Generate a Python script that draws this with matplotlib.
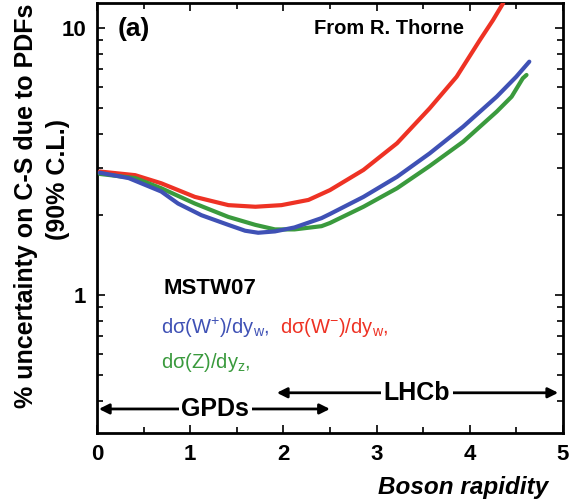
import numpy as np
import matplotlib
matplotlib.use("Agg")
import matplotlib.pyplot as plt
from matplotlib.ticker import FixedLocator, NullFormatter, FixedFormatter

plt.rcParams['font.family'] = ['Liberation Sans', 'DejaVu Sans']
plt.rcParams['mathtext.fontset'] = 'custom'
plt.rcParams['mathtext.rm'] = 'Liberation Sans'
plt.rcParams['mathtext.it'] = 'Liberation Sans:italic'

# Data
x_wplus = [0.03, 0.34, 0.69, 0.87, 1.12, 1.41, 1.59, 1.73, 1.91, 2.12, 2.41, 2.50, 2.86, 3.22, 3.57, 3.93, 4.29, 4.50, 4.64]
y_wplus = [2.87, 2.74, 2.44, 2.20, 1.99, 1.83, 1.74, 1.71, 1.73, 1.79, 1.94, 2.01, 2.33, 2.77, 3.39, 4.27, 5.53, 6.57, 7.48]

x_wminus = [0.03, 0.41, 0.69, 1.05, 1.41, 1.70, 1.98, 2.27, 2.50, 2.86, 3.22, 3.57, 3.86, 4.11, 4.25, 4.36]
y_wminus = [2.90, 2.81, 2.62, 2.33, 2.17, 2.14, 2.17, 2.27, 2.47, 2.94, 3.70, 5.00, 6.57, 9.02, 10.7, 12.4]

x_z = [0.03, 0.41, 0.69, 1.05, 1.41, 1.70, 1.91, 2.12, 2.41, 2.50, 2.86, 3.22, 3.57, 3.93, 4.29, 4.45, 4.57, 4.61]
y_z = [2.84, 2.74, 2.51, 2.20, 1.96, 1.83, 1.76, 1.76, 1.81, 1.86, 2.14, 2.51, 3.04, 3.75, 4.86, 5.53, 6.48, 6.67]

x_ticks = [0, 1, 2, 3, 4, 5]
x_ticklabels = ['0', '1', '2', '3', '4', '5']
y_ticks = [1, 10]
y_ticklabels = ['1', '10']

gpds_range = [0.0, 2.5]
lhcb_range = [1.93, 4.95]

blue = '#3f51b5'
red = '#ee3224'
green = '#3a9a3d'

fig = plt.figure(figsize=(5.72, 5.04), dpi=100)
ax = fig.add_axes([0.1696, 0.1409, 0.8144, 0.853])

ax.plot(x_wminus, y_wminus, color=red, lw=3.0, solid_capstyle='round', solid_joinstyle='round', zorder=3)
ax.plot(x_z, y_z, color=green, lw=3.0, solid_capstyle='round', solid_joinstyle='round', zorder=4)
ax.plot(x_wplus, y_wplus, color=blue, lw=3.0, solid_capstyle='round', solid_joinstyle='round', zorder=5)

ax.set_yscale('log')
ax.set_xlim(0, 5)
ax.set_ylim(0.304, 12.4)

ax.xaxis.set_major_locator(FixedLocator(x_ticks))
ax.xaxis.set_major_formatter(FixedFormatter(x_ticklabels))
ax.xaxis.set_minor_locator(FixedLocator([0.5, 1.5, 2.5, 3.5, 4.5]))
ax.yaxis.set_major_locator(FixedLocator(y_ticks))
ax.yaxis.set_major_formatter(FixedFormatter(y_ticklabels))
minors = [v * d for d in (0.1, 1) for v in range(2, 10)]
ax.yaxis.set_minor_locator(FixedLocator(minors))
ax.yaxis.set_minor_formatter(NullFormatter())

ax.tick_params(which='both', direction='in', top=True, right=True, width=1.2)
ax.tick_params(which='major', length=6, labelsize=16, pad=8)
ax.tick_params(which='minor', length=4)
for lab in ax.get_xticklabels() + ax.get_yticklabels():
    lab.set_fontweight('bold')
for s in ax.spines.values():
    s.set_linewidth(2)

fig.text(0.046, 0.591, '% uncertainty on C-S due to PDFs', fontsize=18,
         fontweight='bold', rotation=90, ha='center', va='center')
fig.text(0.101, 0.643, '(90% C.L.)', fontsize=18,
         fontweight='bold', rotation=90, ha='center', va='center')
fig.text(0.958, 0.033, 'Boson rapidity', fontsize=17.5, fontweight='bold',
         style='italic', ha='right', va='center')

ax.text(0.045, 0.94, '(a)', transform=ax.transAxes, fontsize=19, fontweight='bold',
        ha='left', va='center')
ax.text(0.465, 0.94, 'From R. Thorne', transform=ax.transAxes, fontsize=14.5,
        fontweight='bold', ha='left', va='center')

ax.text(0.143, 0.335, 'MSTW07', transform=ax.transAxes, fontsize=16,
        fontweight='bold', ha='left', va='center')
ax.text(0.137, 0.245, r'dσ(W$^{+}$)/dy$_{\mathrm{w}}$,', transform=ax.transAxes,
        fontsize=14.5, color=blue, ha='left', va='center')
ax.text(0.393, 0.245, r'dσ(W$^{-}$)/dy$_{\mathrm{w}}$,', transform=ax.transAxes,
        fontsize=14.5, color=red, ha='left', va='center')
ax.text(0.137, 0.165, r'dσ(Z)/dy$_{\mathrm{z}}$,', transform=ax.transAxes,
        fontsize=14.5, color=green, ha='left', va='center')

# Range arrows
y_gpd = 0.374
y_lhcb = 0.43
ax.annotate('', xy=(gpds_range[0] + 0.02, y_gpd), xytext=(gpds_range[1], y_gpd),
            arrowprops=dict(arrowstyle='<|-|>', color='black', lw=2, mutation_scale=15,
                            shrinkA=0, shrinkB=0), zorder=6)
ax.text(1.27, y_gpd, 'GPDs', fontsize=18, fontweight='bold', ha='center', va='center',
        bbox=dict(facecolor='white', edgecolor='none', pad=2), zorder=7)
ax.annotate('', xy=(lhcb_range[0], y_lhcb), xytext=(lhcb_range[1], y_lhcb),
            arrowprops=dict(arrowstyle='<|-|>', color='black', lw=2, mutation_scale=15,
                            shrinkA=0, shrinkB=0), zorder=6)
ax.text(3.43, y_lhcb, 'LHCb', fontsize=18, fontweight='bold', ha='center', va='center',
        bbox=dict(facecolor='white', edgecolor='none', pad=2), zorder=7)

fig.savefig('out.png', dpi=100)
